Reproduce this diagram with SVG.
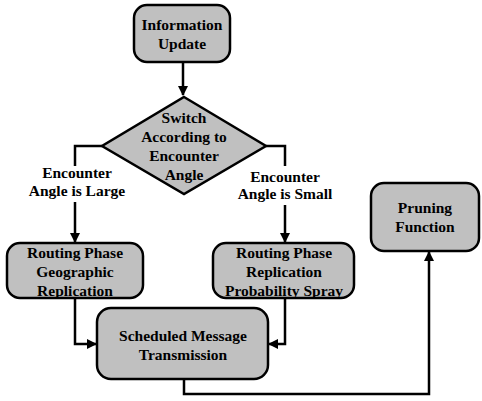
<svg xmlns="http://www.w3.org/2000/svg" width="482" height="401" viewBox="0 0 482 401">
<defs>
<marker id="ah" markerWidth="10" markerHeight="10" refX="9" refY="5" orient="auto" markerUnits="userSpaceOnUse">
<path d="M0,0 L10,5 L0,10 Z" fill="#000"/>
</marker>
<style>
.n{fill:#c0c0c0;stroke:#000;stroke-width:2.5}
text{font-family:'Liberation Serif','Times New Roman','DejaVu Serif',serif;font-weight:bold;font-size:15.5px;text-anchor:middle;fill:#000}
.c{fill:none;stroke:#000;stroke-width:2.5}
</style>
</defs>
<rect width="482" height="401" fill="#fff"/>
<g id="connectors">
<path class="c" d="M183,62 V95" marker-end="url(#ah)"/>
<path class="c" d="M102,146 H75 V166"/>
<path class="c" d="M75,202 V242" marker-end="url(#ah)"/>
<path class="c" d="M266,146 H285 V166"/>
<path class="c" d="M285,205 V242" marker-end="url(#ah)"/>
<path class="c" d="M75,298 V344 H96" marker-end="url(#ah)"/>
<path class="c" d="M285,298 V344 H269" marker-end="url(#ah)"/>
<path class="c" d="M184,379 V394 H429 V252" marker-end="url(#ah)"/>
<text x="77" y="178">Encounter</text>
<text x="77" y="196">Angle is Large</text>
<text x="285" y="182">Encounter</text>
<text x="285" y="199">Angle is Small</text>
</g>
<g id="info">
<rect class="n" x="134" y="5" width="96" height="57" rx="13"/>
<text x="182" y="30">Information</text>
<text x="182" y="49">Update</text>
</g>
<g id="switch">
<polygon class="n" points="184,97 266,146 184,194 102,146"/>
<text x="184" y="123">Switch</text>
<text x="184" y="142">According to</text>
<text x="184" y="161">Encounter</text>
<text x="184" y="180">Angle</text>
</g>
<g id="geo">
<rect class="n" x="7" y="243" width="136" height="55" rx="13"/>
<text x="75" y="258">Routing Phase</text>
<text x="75" y="277">Geographic</text>
<text x="75" y="296">Replication</text>
</g>
<g id="spray">
<rect class="n" x="213" y="243" width="141" height="55" rx="13"/>
<text x="284" y="258">Routing Phase</text>
<text x="284" y="277">Replication</text>
<text x="284" y="296">Probability Spray</text>
</g>
<g id="sched">
<rect class="n" x="97" y="308" width="171" height="71" rx="14"/>
<text x="183" y="341">Scheduled Message</text>
<text x="183" y="360">Transmission</text>
</g>
<g id="prune">
<rect class="n" x="371" y="183" width="108" height="68" rx="13"/>
<text x="425" y="213">Pruning</text>
<text x="425" y="232">Function</text>
</g>
</svg>
